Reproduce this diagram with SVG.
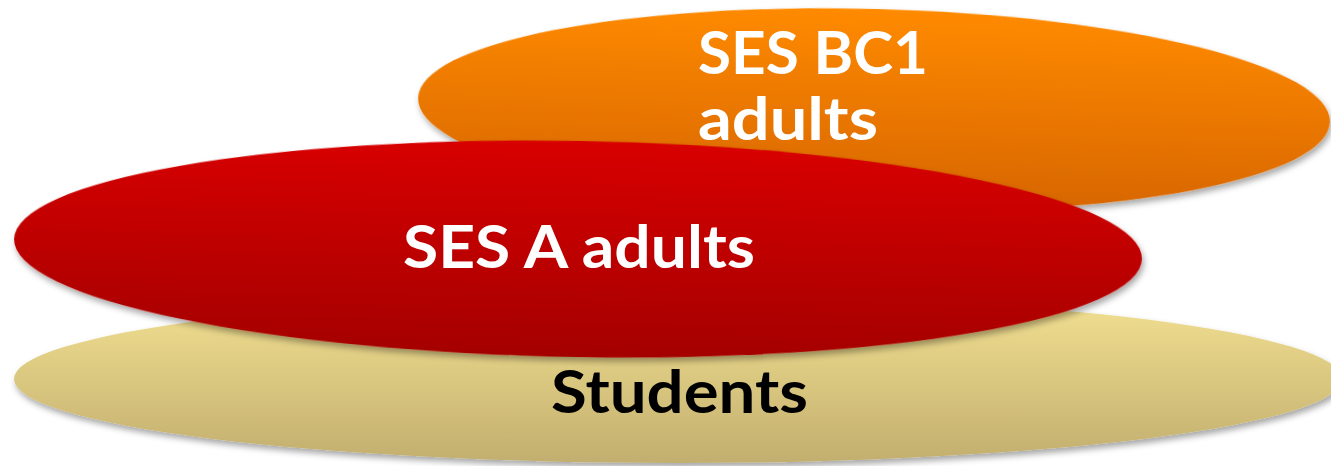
<svg xmlns="http://www.w3.org/2000/svg" width="1331" height="466" viewBox="0 0 1331 466">
  <defs>
    <linearGradient id="gOrange" x1="0" y1="0" x2="0" y2="1">
      <stop offset="0" stop-color="#FF8A00"/>
      <stop offset="1" stop-color="#D66500"/>
    </linearGradient>
    <linearGradient id="gRed" x1="0" y1="0" x2="0" y2="1">
      <stop offset="0" stop-color="#D80000"/>
      <stop offset="1" stop-color="#A40000"/>
    </linearGradient>
    <linearGradient id="gSand" x1="0" y1="0" x2="0" y2="1">
      <stop offset="0" stop-color="#F3E192"/>
      <stop offset="1" stop-color="#C2AE6E"/>
    </linearGradient>
    <filter id="shadow" x="-10%" y="-20%" width="120%" height="150%">
      <feDropShadow dx="2" dy="4" stdDeviation="3" flood-color="#000" flood-opacity="0.35"/>
    </filter>
  </defs>
  <style>
    .label { font-family: "Lato", "Liberation Sans", sans-serif; font-weight: 700; font-size: 60px; }
    .light { fill: #FFFFFF; }
    .dark { fill: #000000; }
  </style>

  <g id="students">
    <ellipse cx="678" cy="379" rx="664" ry="84" fill="url(#gSand)" filter="url(#shadow)"/>
    <text class="label dark" x="551" y="413" textLength="257" lengthAdjust="spacingAndGlyphs">Students</text>
  </g>

  <g id="ses-bc1">
    <ellipse cx="874" cy="110" rx="456" ry="101" transform="rotate(1.5 874 110)" fill="url(#gOrange)" filter="url(#shadow)"/>
    <text class="label light" x="698" y="74" textLength="230" lengthAdjust="spacingAndGlyphs">SES BC1</text>
    <text class="label light" x="698" y="140" textLength="180" lengthAdjust="spacingAndGlyphs">adults</text>
  </g>

  <g id="ses-a">
    <ellipse cx="578" cy="249" rx="564" ry="108" transform="rotate(1 578 249)" fill="url(#gRed)" filter="url(#shadow)"/>
    <text class="label light" x="403" y="268" textLength="352" lengthAdjust="spacingAndGlyphs">SES A adults</text>
  </g>

  <g id="connectors"/>
</svg>
